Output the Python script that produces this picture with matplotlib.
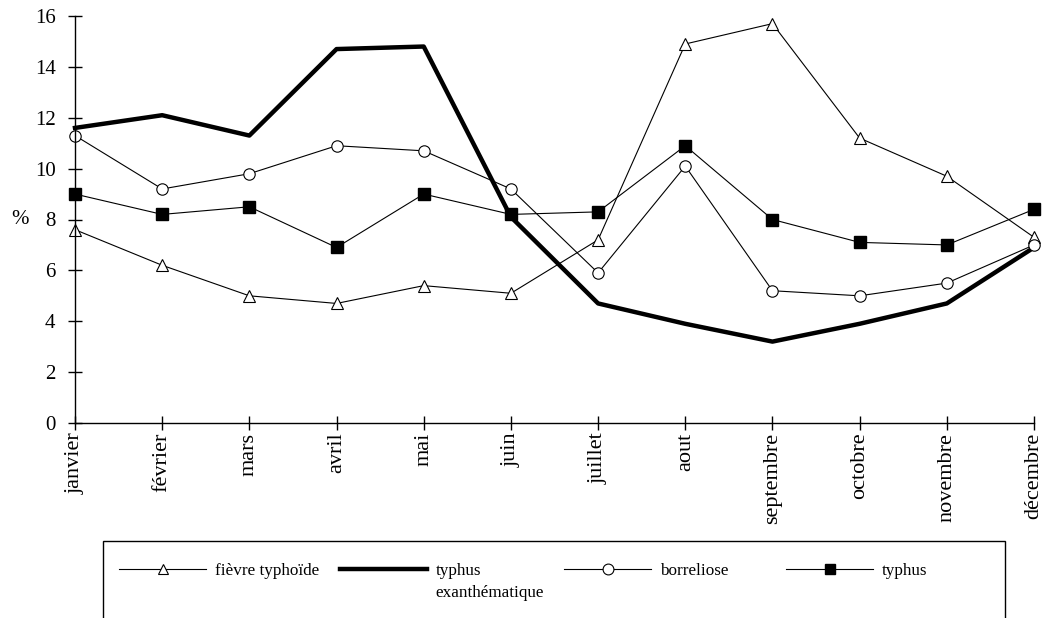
import matplotlib
matplotlib.use("Agg")
import matplotlib.pyplot as plt
from matplotlib.patches import Rectangle

months = ["janvier", "février", "mars", "avril", "mai", "juin", "juillet",
          "aout", "septembre", "octobre", "novembre", "décembre"]
fievre_typhoide = [7.6, 6.2, 5.0, 4.7, 5.4, 5.1, 7.2, 14.9, 15.7, 11.2, 9.7, 7.3]
typhus_exanth = [11.6, 12.1, 11.3, 14.7, 14.8, 8.1, 4.7, 3.9, 3.2, 3.9, 4.7, 6.9]
borreliose = [11.3, 9.2, 9.8, 10.9, 10.7, 9.2, 5.9, 10.1, 5.2, 5.0, 5.5, 7.0]
typhus = [9.0, 8.2, 8.5, 6.9, 9.0, 8.2, 8.3, 10.9, 8.0, 7.1, 7.0, 8.4]
yticks = [0, 2, 4, 6, 8, 10, 12, 14, 16]

plt.rcParams['font.family'] = ['Liberation Serif', 'DejaVu Serif']

W, H = 1044, 618
fig = plt.figure(figsize=(W / 100, H / 100), dpi=100)
ax = fig.add_axes([75 / W, 1 - 423 / H, (1034 - 75) / W, (423 - 16) / H])

x = list(range(len(months)))
h1, = ax.plot(x, fievre_typhoide, color='black', lw=0.8, marker='^', ms=8,
              mfc='white', mec='black', mew=0.8, label='fièvre typhoïde', clip_on=False)
h2, = ax.plot(x, typhus_exanth, color='black', lw=3.2,
              label='typhus', clip_on=False, zorder=1.5)
h3, = ax.plot(x, borreliose, color='black', lw=0.8, marker='o', ms=8.2,
              mfc='white', mec='black', mew=0.8, label='borreliose', clip_on=False)
h4, = ax.plot(x, typhus, color='black', lw=0.8, marker='s', ms=8.3,
              mfc='black', mec='black', label='typhus', clip_on=False)

ax.set_xlim(0, 11)
ax.set_ylim(0, 16)
ax.set_yticks(yticks)
ax.set_xticks(x)
ax.set_xticklabels(months, rotation=90, fontsize=16)
ax.tick_params(axis='y', direction='inout', length=10, width=1, labelsize=15, pad=9)
ax.tick_params(axis='x', direction='inout', length=10, width=1, pad=2)
for s in ['top', 'right']:
    ax.spines[s].set_visible(False)
for s in ['left', 'bottom']:
    ax.spines[s].set_linewidth(1)

fig.text(20 / W, 1 - 219 / H, '%', ha='center', va='center', fontsize=15)

# legend box
fig.patches.append(Rectangle((103 / W, -0.1), (1005 - 103) / W, 0.1 + 1 - 541 / H,
                             transform=fig.transFigure, fill=False,
                             edgecolor='black', lw=1))

starts = [119, 340, 564, 786]
for h, xs in zip([h1, h2, h3, h4], starts):
    fig.legend(handles=[h], labels=[h.get_label()], loc='center left',
               bbox_to_anchor=(xs / W, 1 - 571 / H), frameon=False,
               fontsize=12.3, handlelength=5.1, handletextpad=0.5,
               borderpad=0, borderaxespad=0,
               markerscale=0.95, numpoints=1)
fig.text(435 / W, 1 - 593 / H, 'exanthématique', ha='left', va='center',
         fontsize=12.3)

fig.savefig('out.png', dpi=100)
